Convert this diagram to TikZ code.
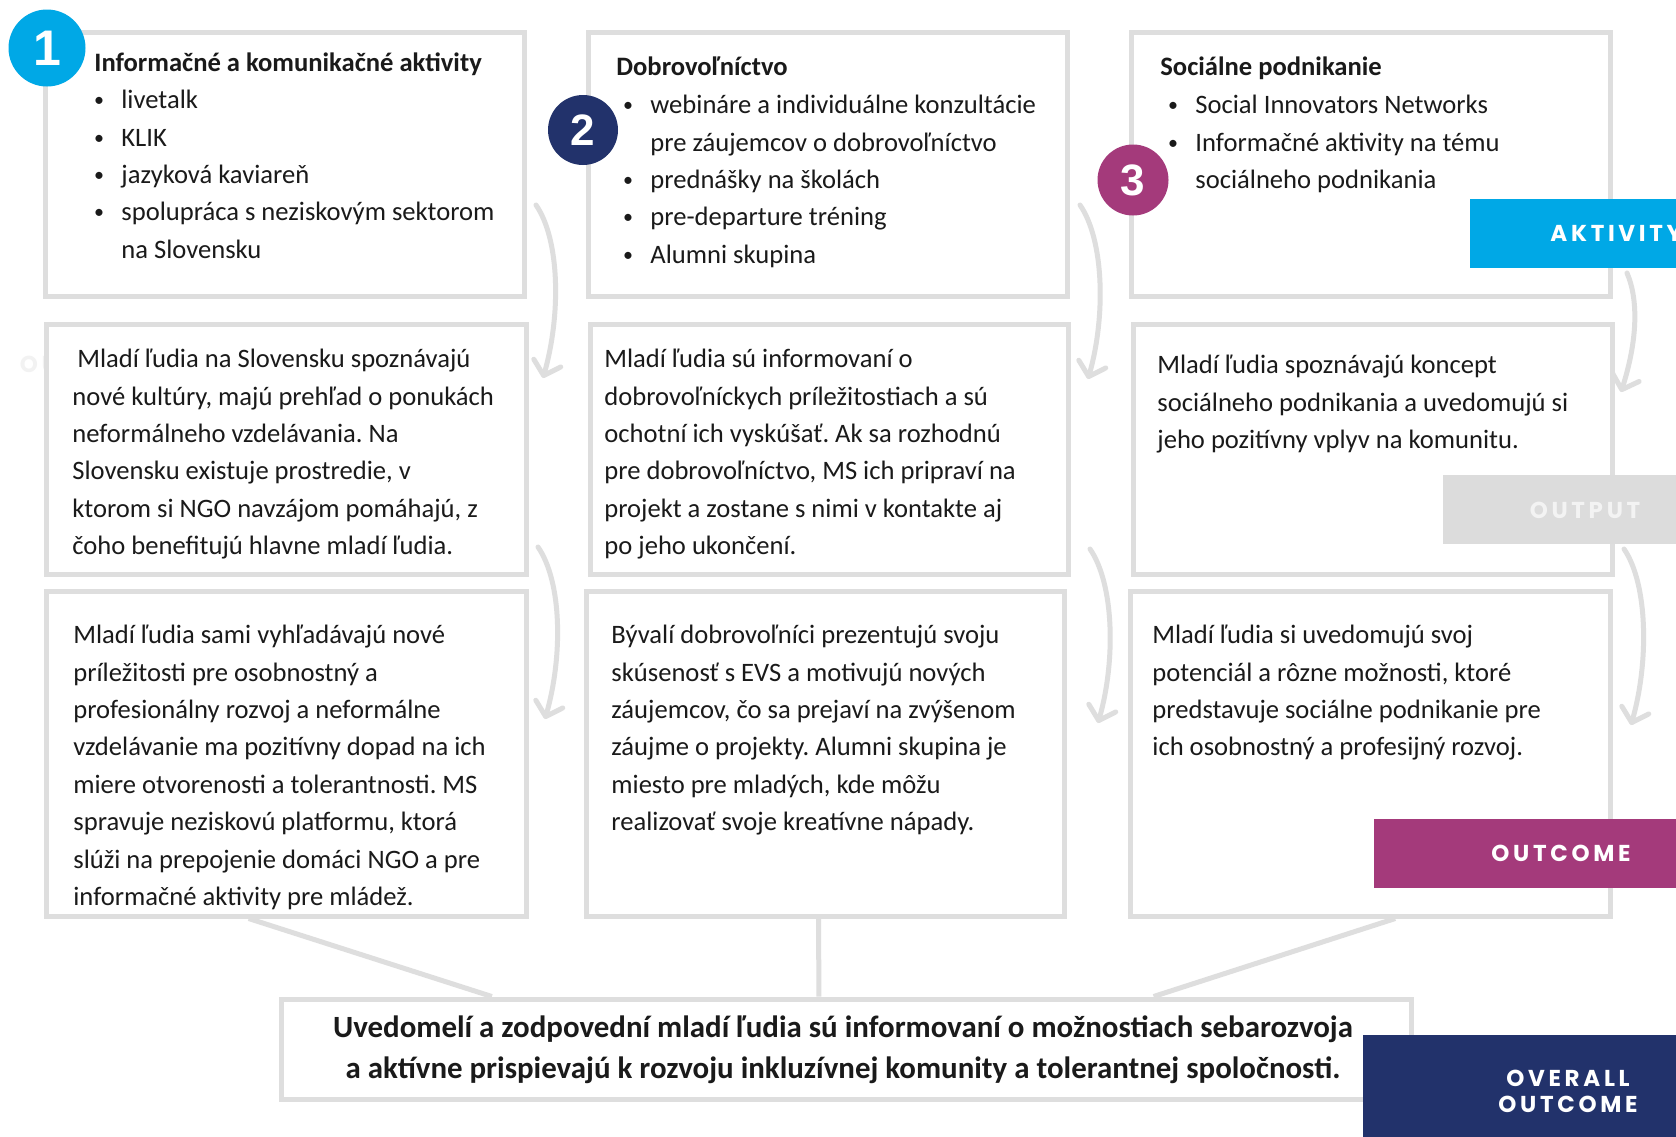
\documentclass[tikz,border=0pt]{standalone}
\usepackage{fontspec}
\usepackage{graphicx}
\setmainfont{Carlito}
\newfontfamily\labfont{Poppins}[LetterSpace=16]
\newfontfamily\numfont{Liberation Sans}
\usetikzlibrary{arrows.meta,fit,calc}
\definecolor{bord}{HTML}{DEDEDE}
\definecolor{txt}{HTML}{1A1A1A}
\definecolor{cyanc}{HTML}{00A8E6}
\definecolor{navyc}{HTML}{22326B}
\definecolor{magc}{HTML}{A43A7B}
\definecolor{outg}{HTML}{DCDCDC}
\definecolor{outt}{HTML}{F3F3F3}
\newcommand\bul{\makebox[11pt][l]{\hspace*{-2.6pt}\raisebox{0.15ex}{\fontsize{10}{10}\selectfont\textbullet}}}
\newcommand\ind{\hspace*{11pt}}
\frenchspacing
\begin{document}
\frenchspacing
\begin{tikzpicture}[x=0.5pt,y=-0.5pt,
  box/.style={draw=bord,line width=2.5pt,fill=white,inner sep=0pt},
  body/.style={font=\fontsize{13.3}{18.7}\selectfont,text=txt,align=left,anchor=north west,inner sep=0pt,execute at begin node=\strut},
  ttl/.style={font=\bfseries\fontsize{13.3}{18.7}\selectfont,text=txt,anchor=base west,inner sep=0pt},
  conn/.style={draw=bord,line width=2.5pt},
  arr/.style={draw=bord,line width=2.5pt,line cap=round,-{Straight Barb[length=6.5pt,width=14pt,round]}},
  tagbox/.style={inner sep=0pt,outer sep=0pt,draw=none},
  tagtxt/.style={font=\labfont\bfseries\fontsize{11.5}{13}\selectfont,text=white,inner sep=0pt},
  num/.style={circle,inner sep=0pt,minimum size=35pt,text=white,font=\numfont\bfseries\fontsize{22}{22}\selectfont}
]
\fill[white] (0,0) rectangle (1676,1136);
\useasboundingbox (0,0) rectangle (1676,1136);

% ghost label (mostly hidden behind the box below)
\node[tagtxt,text=black!5] (ghost) at (75,364) {OUTPUT};

% boxes
\node[box,fit={(45,32) (524,296)}] (A1) {};
\node[box,fit={(588,32) (1067,296)}] (B1) {};
\node[box,fit={(1131,32) (1610,296)}] (C1) {};
\node[box,fit={(46,324) (526,574)}] (A2) {};
\node[box,fit={(590,324) (1068,574)}] (B2) {};
\node[box,fit={(1133,324) (1612,574)}] (C2) {};
\node[box,fit={(46,591) (526,916)}] (A3) {};
\node[box,fit={(586,591) (1064,916)}] (B3) {};
\node[box,fit={(1130,591) (1610,916)}] (C3) {};
\node[box,fit={(281,999) (1411,1099)}] (Bot) {};

% connectors to the overall outcome
\draw[conn] ($(A3.south west)!0.423!(A3.south east)$) -- ($(Bot.north west)!0.188!(Bot.north east)$);
\draw[conn] ($(B3.south west)!0.487!(B3.south east)$) -- ($(Bot.north west)!0.476!(Bot.north east)$);
\draw[conn] ($(C3.south west)!0.552!(C3.south east)$) -- ($(Bot.north west)!0.771!(Bot.north east)$);

% texts row 1
\node[ttl] (A1t) at (94,71.2) {Informačné a komunikačné aktivity};
\node[body] (A1b) at (99,89.8) {\bul livetalk\\\bul KLIK\\\bul jazyková kaviareň\\\bul spolupráca s neziskovým sektorom\\\ind na Slovensku};
\node[ttl] (B1t) at (616,75.2) {Dobrovoľníctvo};
\node[body] (B1b) at (628,94.8) {\bul webináre a individuálne konzultácie\\\ind pre záujemcov o dobrovoľníctvo\\\bul prednášky na školách\\\bul pre-departure tréning\\\bul Alumni skupina};
\node[ttl] (C1t) at (1160,75.2) {Sociálne podnikanie};
\node[body] (C1b) at (1173,94.8) {\bul Social Innovators Networks\\\bul Informačné aktivity na tému\\\ind sociálneho podnikania};

% texts row 2
\node[body] (A2b) at (72,348.8) {\hspace*{2.5pt}Mladí ľudia na Slovensku spoznávajú\\nové kultúry, majú prehľad o ponukách\\neformálneho vzdelávania. Na\\Slovensku existuje prostredie, v\\ktorom si NGO navzájom pomáhajú, z\\čoho benefitujú hlavne mladí ľudia.};
\node[body] (B2b) at (604,348.8) {Mladí ľudia sú informovaní o\\dobrovoľníckych príležitostiach a sú\\ochotní ich vyskúšať. Ak sa rozhodnú\\pre dobrovoľníctvo, MS ich pripraví na\\projekt a zostane s nimi v kontakte aj\\po jeho ukončení.};
\node[body] (C2b) at (1157,354.8) {Mladí ľudia spoznávajú koncept\\sociálneho podnikania a uvedomujú si\\jeho pozitívny vplyv na komunitu.};

% texts row 3
\node[body] (A3b) at (73,624.8) {Mladí ľudia sami vyhľadávajú nové\\príležitosti pre osobnostný a\\profesionálny rozvoj a neformálne\\vzdelávanie ma pozitívny dopad na ich\\miere otvorenosti a tolerantnosti. MS\\spravuje neziskovú platformu, ktorá\\slúži na prepojenie domáci NGO a pre\\informačné aktivity pre mládež.};
\node[body] (B3b) at (611,624.8) {Bývalí dobrovoľníci prezentujú svoju\\skúsenosť s EVS a motivujú nových\\záujemcov, čo sa prejaví na zvýšenom\\záujme o projekty. Alumni skupina je\\miesto pre mladých, kde môžu\\realizovať svoje kreatívne nápady.};
\node[body] (C3b) at (1152,624.8) {Mladí ľudia si uvedomujú svoj\\potenciál a rôzne možnosti, ktoré\\predstavuje sociálne podnikanie pre\\ich osobnostný a profesijný rozvoj.};

% overall text
\node[font=\bfseries\fontsize{15.45}{20.6}\selectfont,text=txt,align=center,anchor=north,inner sep=0pt,execute at begin node=\strut] (Bott) at (843,1015) {Uvedomelí a zodpovední mladí ľudia sú informovaní o možnostiach sebarozvoja\\a aktívne prispievajú k rozvoju inkluzívnej komunity a tolerantnej spoločnosti.};

% curved arrows
\coordinate (a1s) at (536,205); \coordinate (a1e) at (543,378);
\coordinate (a2s) at (538,547); \coordinate (a2e) at (545,719);
\coordinate (b1s) at (1080,205); \coordinate (b1e) at (1088,379);
\coordinate (b2s) at (1090,549); \coordinate (b2e) at (1098,723);
\coordinate (c1s) at (1627,273); \coordinate (c1e) at (1621,392);
\coordinate (c2s) at (1624,549); \coordinate (c2e) at (1631,725);
\foreach \p in {a1,a2,b1,b2}{
  \draw[arr] (\p s) .. controls ($(\p s)+(24,35)$) and ($(\p e)+(18,-63)$) .. (\p e);
}
\draw[arr] (c1s) .. controls ($(c1s)+(12,28)$) and ($(c1e)+(16,-50)$) .. (c1e);
\draw[arr] (c2s) .. controls ($(c2s)+(24,35)$) and ($(c2e)+(18,-63)$) .. (c2e);

% tags
\node[fill=cyanc,tagbox,fit={(1470,199) (1680,268)}] (tagA) {};
\node[tagtxt,anchor=west] (tagAt) at (1550,233.5) {AKTIVITY};
\node[fill=outg,tagbox,fit={(1443,475) (1680,544)}] (tagO) {};
\node[tagtxt,text=outt] (tagOt) at (1585,510) {OUTPUT};
\node[fill=magc,tagbox,fit={(1374,819) (1680,888)}] (tagC) {};
\node[tagtxt] (tagCt) at (1561,853.5) {OUTCOME};
\node[fill=navyc,tagbox,fit={(1363,1035) (1680,1140)}] (tagV) {};
\node[tagtxt,align=center] (tagVt) at (1568,1091) {OVERALL\\OUTCOME};

% number circles
\node[num,fill=cyanc,minimum size=38.5pt,font=\numfont\bfseries\fontsize{25}{25}\selectfont] (n1) at (47,48) {1};
\node[num,fill=navyc] (n2) at (583,130) {2};
\node[num,fill=magc,minimum size=35.5pt] (n3) at (1133,180) {3};
\end{tikzpicture}
\end{document}
